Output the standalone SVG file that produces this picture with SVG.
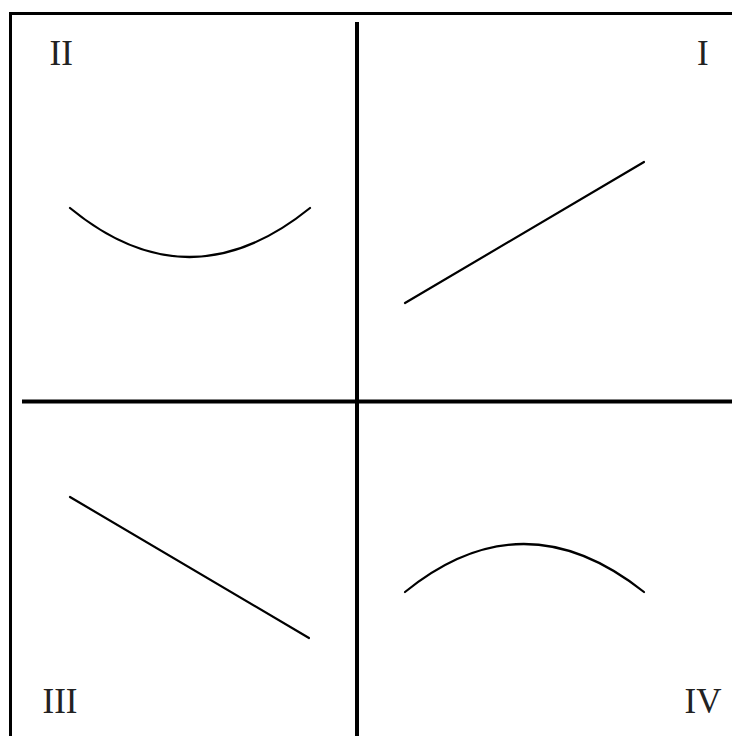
<svg xmlns="http://www.w3.org/2000/svg" width="732" height="736" viewBox="0 0 732 736">
<style>
.frame{fill:none;stroke:#000;stroke-width:3}
.axis{stroke:#000;stroke-width:4;fill:none}
.curve{stroke:#000;stroke-width:2.2;fill:none;stroke-linecap:round}
.lbl{font-family:"Liberation Serif","Times New Roman",serif;font-size:35px;fill:#222}
</style>
<rect width="732" height="736" fill="#fff"/>
<rect class="frame" x="10.5" y="13.5" width="740" height="740"/>
<g id="axes">
<line class="axis" x1="357" y1="22" x2="357" y2="736"/>
<line class="axis" x1="22" y1="401.5" x2="732" y2="401.5"/>
</g>
<g id="q1">
<line class="curve" x1="405" y1="303" x2="644" y2="162"/>
<text class="lbl" x="697" y="65">I</text>
</g>
<g id="q2">
<path class="curve" d="M70,208 Q189,306 310,208"/>
<text class="lbl" x="49.5" y="65">II</text>
</g>
<g id="q3">
<line class="curve" x1="70" y1="497" x2="309" y2="638"/>
<text class="lbl" x="42.5" y="713">III</text>
</g>
<g id="q4">
<path class="curve" d="M405,592 Q523,496 644,592"/>
<text class="lbl" x="684.5" y="713">IV</text>
</g>
</svg>
